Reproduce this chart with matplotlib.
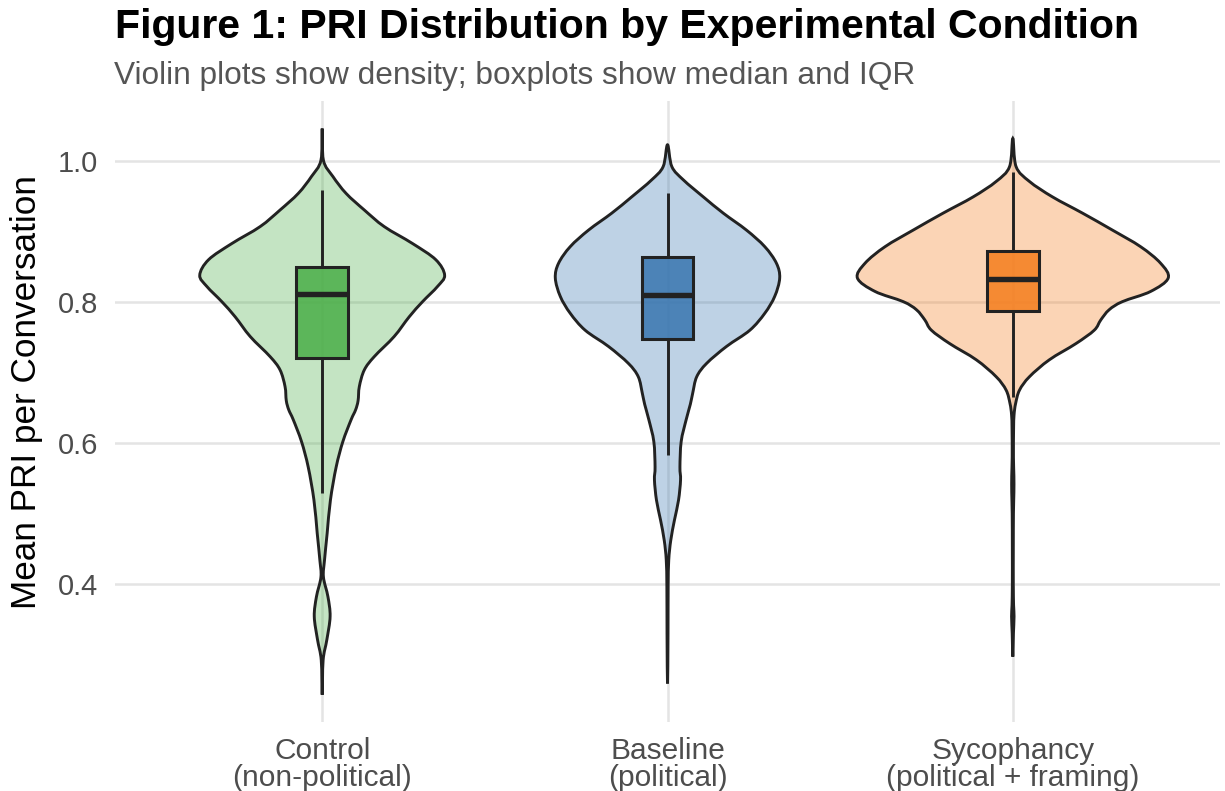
import numpy as np
import matplotlib
matplotlib.use("Agg")
import matplotlib.pyplot as plt
from matplotlib.path import Path
from matplotlib.patches import PathPatch, Rectangle
from matplotlib.colors import to_rgba

plt.rcParams['font.family'] = ['Liberation Sans', 'DejaVu Sans']

# ---------------- data ----------------
categories = ["Control\n(non-political)", "Baseline\n(political)",
              "Sycophancy\n(political + framing)"]
colors = ["#4DAF4A", "#3B77B0", "#F57F20"]

# violin outlines: PRI value and relative density (1 = widest violin)
control_pri = [1.046, 1.001, 0.978, 0.954, 0.9305, 0.907, 0.883, 0.860, 0.838,
               0.822, 0.8005, 0.779, 0.751, 0.7225, 0.7036, 0.680, 0.660, 0.647,
               0.633, 0.602, 0.566, 0.519, 0.472, 0.434, 0.410, 0.382, 0.354,
               0.321, 0.292, 0.243]
control_density = [0.0, 0.008, 0.069, 0.154, 0.271, 0.399, 0.581, 0.731, 0.788,
                   0.742, 0.646, 0.560, 0.463, 0.335, 0.271, 0.239, 0.231, 0.215,
                   0.186, 0.133, 0.090, 0.053, 0.032, 0.015, 0.008, 0.037, 0.051,
                   0.030, 0.006, 0.0]

baseline_pri = [1.023, 0.992, 0.973, 0.949, 0.926, 0.902, 0.8785, 0.855, 0.834,
                0.808, 0.784, 0.760, 0.737, 0.713, 0.694, 0.6705, 0.655, 0.633,
                0.602, 0.566, 0.5475, 0.519, 0.491, 0.462, 0.434, 0.396, 0.330,
                0.259]
baseline_density = [0.0, 0.028, 0.103, 0.231, 0.359, 0.508, 0.626, 0.701, 0.722,
                    0.690, 0.626, 0.530, 0.380, 0.252, 0.188, 0.162, 0.147, 0.120,
                    0.088, 0.080, 0.084, 0.071, 0.045, 0.021, 0.008, 0.004, 0.003,
                    0.0]

sycophancy_pri = [1.032, 0.992, 0.971, 0.949, 0.926, 0.902, 0.8785, 0.855, 0.834,
                  0.815, 0.8005, 0.789, 0.7745, 0.760, 0.741, 0.718, 0.694, 0.675,
                  0.656, 0.640, 0.620, 0.580, 0.553, 0.530, 0.500, 0.450, 0.400,
                  0.370, 0.354, 0.330, 0.310, 0.297]
sycophancy_density = [0.0, 0.021, 0.107, 0.256, 0.449, 0.641, 0.822, 0.951, 1.0,
                      0.887, 0.705, 0.620, 0.566, 0.524, 0.406, 0.235, 0.107, 0.043,
                      0.018, 0.008, 0.005, 0.004, 0.007, 0.007, 0.004, 0.003, 0.003,
                      0.005, 0.008, 0.004, 0.002, 0.0]

violin_pri = [control_pri, baseline_pri, sycophancy_pri]
violin_density = [control_density, baseline_density, sycophancy_density]

# boxplot statistics
q1 = [0.720, 0.7475, 0.787]
median = [0.812, 0.810, 0.833]
q3 = [0.850, 0.864, 0.873]
whisker_low = [0.529, 0.583, 0.665]
whisker_high = [0.959, 0.954, 0.985]

yticks = [0.4, 0.6, 0.8, 1.0]

title = "Figure 1: PRI Distribution by Experimental Condition"
subtitle = "Violin plots show density; boxplots show median and IQR"
ylabel = "Mean PRI per Conversation"

# ---------------- helpers ----------------
def closed_smooth_path(pts):
    """Closed Catmull-Rom curve through pts, as cubic Bezier Path."""
    pts = np.asarray(pts, dtype=float)
    n = len(pts)
    verts = [pts[0]]
    codes = [Path.MOVETO]
    for i in range(n):
        p0 = pts[(i - 1) % n]
        p1 = pts[i]
        p2 = pts[(i + 1) % n]
        p3 = pts[(i + 2) % n]
        c1 = p1 + (p2 - p0) / 6.0
        c2 = p2 - (p3 - p1) / 6.0
        verts += [c1, c2, p2]
        codes += [Path.CURVE4] * 3
    verts.append(pts[0])
    codes.append(Path.CLOSEPOLY)
    return Path(verts, codes)


# ---------------- figure ----------------
W, H = 1225, 791
fig = plt.figure(figsize=(W / 100, H / 100), dpi=100)
px_l, px_r, px_t, px_b = 115, 1220, 101, 722
ax = fig.add_axes([px_l / W, 1 - px_b / H, (px_r - px_l) / W, (px_b - px_t) / H])

ax.set_xlim(0.4, 3.6)
ax.set_ylim(0.2043, 1.0851)
ax.set_axisbelow(True)
for s in ax.spines.values():
    s.set_visible(False)

grid_c = "#E4E4E4"
ax.set_yticks(yticks)
ax.set_yticklabels([f"{v:.1f}" for v in yticks])
ax.set_xticks([1, 2, 3])
ax.set_xticklabels(categories, linespacing=0.92)
ax.grid(True, color=grid_c, linewidth=1.8)
ax.tick_params(axis="both", length=0, labelcolor="#4D4D4D")
ax.tick_params(axis="y", pad=12, labelsize=21)
ax.tick_params(axis="x", pad=11, labelsize=21.5)

half_max = 0.45
box_half = 0.075
edge = "#222222"

for i, (pri, dens) in enumerate(zip(violin_pri, violin_density)):
    xc = i + 1
    pri = np.asarray(pri)
    dens = np.asarray(dens)
    left = np.column_stack([xc - dens * half_max, pri])
    right = np.column_stack([xc + dens * half_max, pri])[::-1]
    pts = np.vstack([left, right[1:-1]])
    path = closed_smooth_path(pts)
    ax.add_patch(PathPatch(path, facecolor=to_rgba(colors[i], 0.33),
                           edgecolor=edge, linewidth=2.1, zorder=2))

    # whiskers
    ax.plot([xc, xc], [q3[i], whisker_high[i]], color=edge, lw=2.1,
            solid_capstyle="butt", zorder=3)
    ax.plot([xc, xc], [whisker_low[i], q1[i]], color=edge, lw=2.1,
            solid_capstyle="butt", zorder=3)
    # box
    ax.add_patch(Rectangle((xc - box_half, q1[i]), 2 * box_half, q3[i] - q1[i],
                           facecolor=to_rgba(colors[i], 0.87), edgecolor=edge,
                           linewidth=2.2, zorder=4))
    ax.plot([xc - box_half, xc + box_half], [median[i], median[i]], color=edge,
            lw=3.9, solid_capstyle="butt", zorder=5)

fig.text(27 / W, 1 - 392 / H, ylabel, rotation=90, ha="center", va="center",
         fontsize=25.3, color="black")

fig.text(115 / W, 1 - 38 / H, title, ha="left", va="baseline",
         fontsize=29.5, fontweight="bold", color="black")
fig.text(114 / W, 1 - 84 / H, subtitle, ha="left", va="baseline",
         fontsize=22.8, color="#555555")

fig.savefig("out.png", dpi=100)
